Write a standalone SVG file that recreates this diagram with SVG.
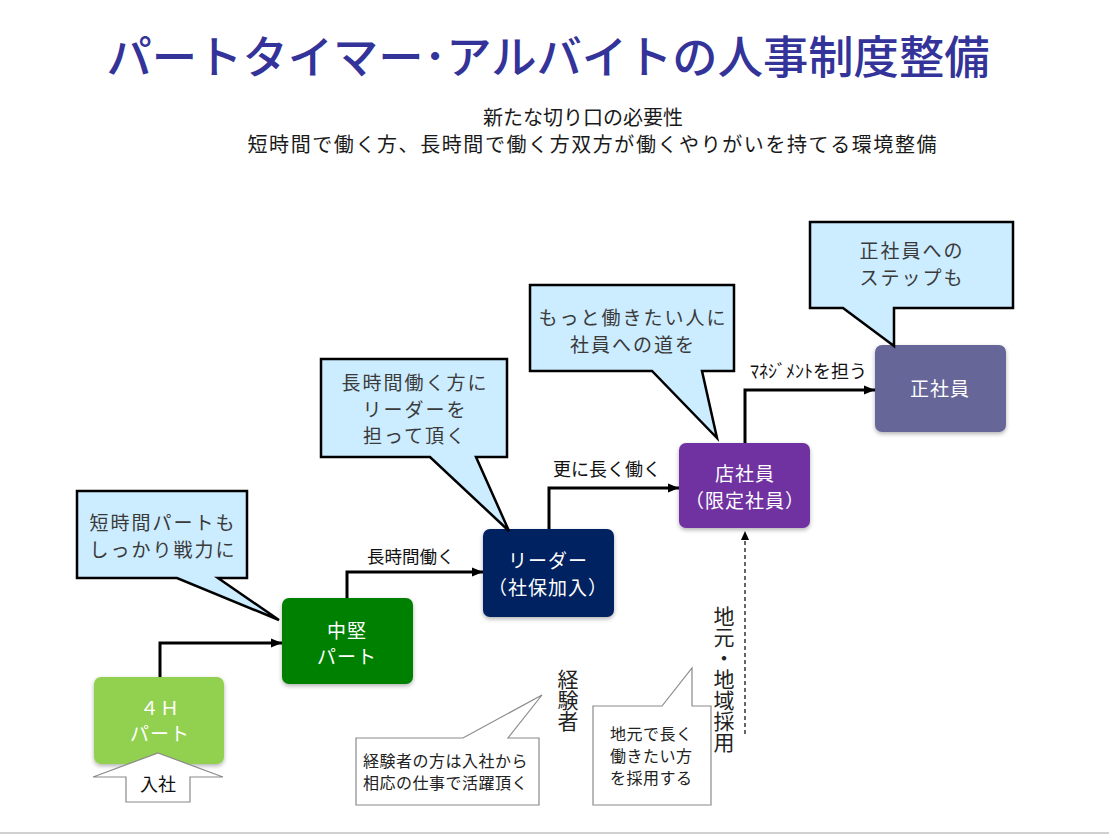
<svg xmlns="http://www.w3.org/2000/svg" width="1109" height="835" viewBox="0 0 1109 835">
<defs>
<style>
text{font-family:"Noto Sans CJK JP","Liberation Sans",sans-serif;}
.title{font-size:45px;fill:#333399;text-anchor:middle;font-weight:500;}
.sub{font-size:20px;fill:#1a1a1a;text-anchor:middle;}
.nt{font-size:19px;fill:#ffffff;text-anchor:middle;letter-spacing:1px;}
.ct{font-size:19px;fill:#3a3a3a;text-anchor:middle;letter-spacing:2px;}
.lbl{font-size:18px;fill:#111111;}
.wt{font-size:16px;fill:#222222;letter-spacing:0.5px;}
.vt{font-size:21px;fill:#222222;writing-mode:vertical-rl;text-orientation:upright;}
.conn{fill:none;stroke:#000;stroke-width:3;}
.blue{fill:#CCECFF;stroke:#000;stroke-width:2.5;stroke-linejoin:miter;}
.white{fill:#fff;stroke:#8a8a8a;stroke-width:1.2;}
</style>
<filter id="sh" x="-10%" y="-10%" width="120%" height="130%">
<feDropShadow dx="0" dy="2" stdDeviation="2" flood-color="#000" flood-opacity="0.3"/>
</filter>
<marker id="ah" markerUnits="userSpaceOnUse" markerWidth="12" markerHeight="12" viewBox="0 0 12 12" refX="11" refY="6" orient="auto">
<path d="M0,1.5 L11,6 L0,10.5 Z" fill="#000"/>
</marker>
<marker id="ahs" markerUnits="userSpaceOnUse" markerWidth="10" markerHeight="10" viewBox="0 0 10 10" refX="9" refY="5" orient="auto">
<path d="M0,1 L9,5 L0,9 Z" fill="#000"/>
</marker>
</defs>
<rect width="1109" height="835" fill="#fff"/>

<text class="title" x="548" y="74" textLength="883" lengthAdjust="spacingAndGlyphs">パートタイマー･アルバイトの人事制度整備</text>
<text class="sub" x="583" y="125">新たな切り口の必要性<tspan x="592" dy="27" textLength="689" lengthAdjust="spacing">短時間で働く方、長時間で働く方双方が働くやりがいを持てる環境整備</tspan></text>

<g id="connectors">
<path class="conn" d="M160,677 V643 H282" marker-end="url(#ah)"/>
<path class="conn" d="M347,598 V572 H483" marker-end="url(#ah)"/>
<path class="conn" d="M549,529 V488 H679" marker-end="url(#ah)"/>
<path class="conn" d="M745,443 V390 H875" marker-end="url(#ah)"/>
<path d="M745,734 V531" fill="none" stroke="#000" stroke-width="1.2" stroke-dasharray="4,3" marker-end="url(#ahs)"/>
<text class="lbl" x="367" y="563" style="font-size:17.5px">長時間働く</text>
<text class="lbl" x="553" y="476">更に長く働く</text>
<text class="lbl" x="750" y="378">ﾏﾈｼﾞﾒﾝﾄを担う</text>
</g>

<g id="node-4h">
<rect x="94" y="677" width="130" height="87" rx="7" fill="#92D050" filter="url(#sh)"/>
<text class="nt" x="160" y="715">４Ｈ<tspan x="160" dy="26">パート</tspan></text>
</g>
<g id="node-chuken">
<rect x="282" y="598" width="131" height="86" rx="7" fill="#008000" filter="url(#sh)"/>
<text class="nt" x="347" y="638">中堅<tspan x="347" dy="26">パート</tspan></text>
</g>
<g id="node-leader">
<rect x="483" y="529" width="131" height="88" rx="7" fill="#002060" filter="url(#sh)"/>
<text class="nt" x="548" y="568">リーダー<tspan x="548" dy="27">（社保加入）</tspan></text>
</g>
<g id="node-tenshain">
<rect x="679" y="443" width="131" height="85" rx="7" fill="#7030A0" filter="url(#sh)"/>
<text class="nt" x="745" y="481">店社員<tspan x="745" dy="27">（限定社員）</tspan></text>
</g>
<g id="node-seishain">
<rect x="875" y="345" width="131" height="87" rx="7" fill="#666699" filter="url(#sh)"/>
<text class="nt" x="940" y="396">正社員</text>
</g>

<g id="entry-arrow">
<polygon points="158,753 223,777 190,777 190,802 126,802 126,777 93,777" fill="#fff" stroke="#8a8a8a" stroke-width="1.2"/>
<text class="lbl" x="158" y="791" text-anchor="middle">入社</text>
</g>

<g id="callout-1">
<path class="blue" d="M77,491 H247 V578 H218 L279,620 L177,578 H77 Z"/>
<text class="ct" x="163" y="530">短時間パートも<tspan x="163" dy="26.5">しっかり戦力に</tspan></text>
</g>
<g id="callout-2">
<path class="blue" d="M321,359 H507 V457 H476 L509,531 L430,457 H321 Z"/>
<text class="ct" x="415" y="390">長時間働く方に<tspan x="415" dy="26.5">リーダーを</tspan><tspan x="415" dy="26.5">担って頂く</tspan></text>
</g>
<g id="callout-3">
<path class="blue" d="M530,285 H734 V371 H702 L717,438 L652,371 H530 Z"/>
<text class="ct" x="633" y="325">もっと働きたい人に<tspan x="633" dy="26.5">社員への道を</tspan></text>
</g>
<g id="callout-4">
<path class="blue" d="M810,222 H1013 V308 H894 V346 L843,308 H810 Z"/>
<text class="ct" x="912" y="258">正社員への<tspan x="912" dy="26.5">ステップも</tspan></text>
</g>

<g id="callout-5">
<path class="white" d="M356,738 H463 L542,695 L508,738 H539 V805 H356 Z"/>
<text class="wt" x="363" y="767">経験者の方は入社から<tspan x="363" dy="22">相応の仕事で活躍頂く</tspan></text>
</g>
<g id="callout-6">
<path class="white" d="M593,706 H662 L692,668 V706 H711 V805 H593 Z"/>
<text class="wt" x="610" y="740">地元で長く<tspan x="610" dy="22">働きたい方</tspan><tspan x="610" dy="22">を採用する</tspan></text>
</g>

<g id="label-keiken">
<text class="vt" x="568" y="669">経験者</text>
</g>
<g id="label-chiiki">
<text class="vt" x="724" y="606">地元・地域採用</text>
</g>

<line x1="0" y1="833" x2="1109" y2="833" stroke="#d0d0d0" stroke-width="2"/>
</svg>
